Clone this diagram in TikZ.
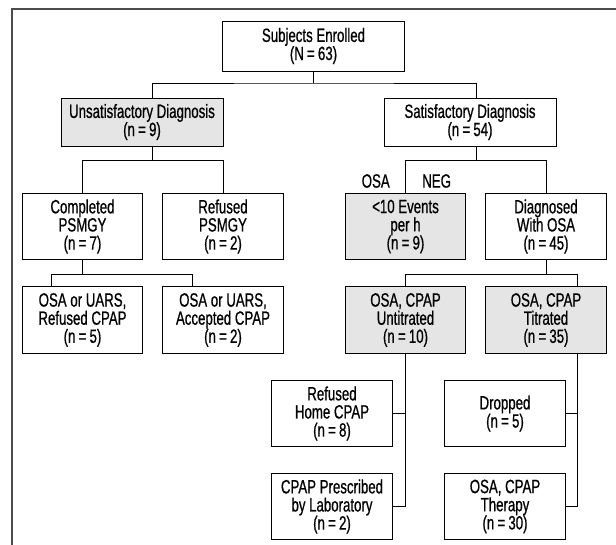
\documentclass[tikz,border=0pt]{standalone}
\usepackage{fontspec}
\setmainfont{Liberation Sans}[FakeStretch=0.69,FakeBold=0.7]
\usetikzlibrary{calc}

\begin{document}
\begin{tikzpicture}[x=0.75pt,y=-0.75pt,
  stage/.style={draw,line width=0.7pt,align=center,inner sep=0,font=\fontsize{14.4}{13.6}\selectfont},
  small/.style={stage,minimum width=90.5pt,minimum height=50pt},
  grey/.style={fill=black!10},
  tag/.style={font=\fontsize{14.4}{13.6}\selectfont,inner sep=0},
  link/.style={draw,line width=0.6pt}]

\useasboundingbox (0,0) rectangle (616,544);
\draw[black!70,line width=1.5pt] (12,546) -- (12,9) -- (618,9);

% Nodes
\node[stage,minimum width=137pt,minimum height=37.5pt] (enrol) at (313.5,46) {Subjects Enrolled\\(N\,=\,63)};
\node[stage,grey,minimum width=121.5pt,minimum height=36pt] (unsat) at (142,122) {Unsatisfactory Diagnosis\\(n\,=\,9)};
\node[stage,minimum width=129pt,minimum height=36pt] (sat) at (470,122) {Satisfactory Diagnosis\\(n\,=\,54)};

\node[small] (compl) at (82.5,226.5) {Completed\\PSMGY\\(n\,=\,7)};
\node[small] (refps) at (223,226.5) {Refused\\PSMGY\\(n\,=\,2)};
\node[small,grey] (lowev) at (405.5,226.5) {<10 Events\\per h\\(n\,=\,9)};
\node[small] (diag) at (546,226.5) {Diagnosed\\With OSA\\(n\,=\,45)};

\node[small] (osaref) at (82.5,320) {OSA or UARS,\\Refused CPAP\\(n\,=\,5)};
\node[small] (osaacc) at (223,320) {OSA or UARS,\\Accepted CPAP\\(n\,=\,2)};
\node[small,grey] (untit) at (405.5,320) {OSA, CPAP\\Untitrated\\(n\,=\,10)};
\node[small,grey] (tit) at (546,320) {OSA, CPAP\\Titrated\\(n\,=\,35)};

\node[small] (refhome) at (332,413.5) {Refused\\Home CPAP\\(n\,=\,8)};
\node[small] (dropped) at (505,413.5) {Dropped\\(n\,=\,5)};
\node[small] (prescr) at (332,506.5) {CPAP Prescribed\\by Laboratory\\(n\,=\,2)};
\node[small] (therapy) at (505,506.5) {OSA, CPAP\\Therapy\\(n\,=\,30)};

\node[tag,anchor=east] (osa) at (390,181) {OSA};
\node[tag,anchor=west] (neg) at (422,181) {NEG};

% links
\coordinate (j0) at (313.5,83);
\draw[link] (enrol.south) -- (j0);
\draw[link] ($(unsat.north)+(10.5,0)$) |- (j0) -| ($(sat.north)+(6,0)$);

\coordinate (j1) at ($(unsat.south)+(10.5,14)$);
\draw[link] ($(unsat.south)+(10.5,0)$) -- (j1);
\draw[link] (compl.north) |- (j1) -| (refps.north);

\coordinate (j2) at ($(sat.south)+(6,14)$);
\draw[link] ($(sat.south)+(6,0)$) -- (j2);
\draw[link] (lowev.north) |- (j2) -| (diag.north);

\coordinate (j3) at ($(compl.south)+(0,14)$);
\draw[link] (compl.south) -- (j3);
\draw[link] ($(osaref.north)+(-31.5,0)$) |- (j3) -| ($(osaacc.north)+(-31,0)$);

\coordinate (j4) at ($(diag.south)+(0,14)$);
\draw[link] (diag.south) -- (j4);
\draw[link] (untit.north) |- (j4) -| ($(tit.north)+(31.5,0)$);

\draw[link] (untit.south) |- (prescr.east);
\draw[link] (refhome.east) -- (refhome.east -| untit.south);

\coordinate (t0) at ($(tit.south)+(31.5,0)$);
\draw[link] (t0) |- (therapy.east);
\draw[link] (dropped.east) -- (dropped.east -| t0);

\end{tikzpicture}
\end{document}
